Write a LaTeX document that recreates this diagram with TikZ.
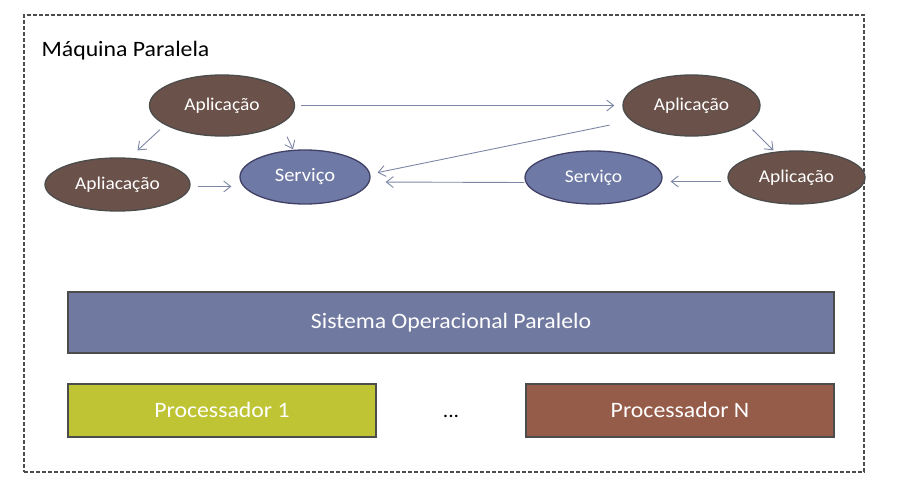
\documentclass[tikz,border=0pt]{standalone}
\usepackage{fontspec}
\setmainfont{Carlito}[FakeStretch=1.08]
\usetikzlibrary{arrows.meta}
\usetikzlibrary{shapes.geometric}
\usetikzlibrary{positioning}
\usetikzlibrary{calc}
\definecolor{appbrown}{RGB}{106,81,73}
\definecolor{srvblue}{RGB}{110,122,165}
\definecolor{sopblue}{RGB}{112,121,160}
\definecolor{procgreen}{RGB}{190,196,52}
\definecolor{procred}{RGB}{150,92,74}
\definecolor{flowgray}{RGB}{125,135,165}

\begin{document}
\begin{tikzpicture}[x=1pt,y=-1pt]
  \tikzset{basicell/.style={ellipse,inner sep=0pt,minimum width=#1,text=white,line width=1.3pt},
           appell/.style={basicell=#1,fill=appbrown,draw=black!70,minimum height=61pt,font=\fontsize{18}{20}\selectfont},
           srvell/.style={basicell=#1,fill=srvblue,draw=blue!20!black!75,minimum height=54pt,font=\fontsize{19}{21}\selectfont},
           basicbox/.style={rectangle,inner sep=0pt,minimum width=#1,text=white,draw=black!70,line width=1.8pt,font=\fontsize{22}{24}\selectfont},
           sopbox/.style={basicbox=#1,fill=sopblue,minimum height=61pt},
           procbox/.style={basicbox=#1,minimum height=53pt},
           frame/.style={draw=black!70,line width=1.2pt,dash pattern=on 4pt off 2pt},
           flow/.style={->,line width=0.9pt,flowgray,>={Straight Barb[length=7pt,width=11pt]}}}
  \useasboundingbox (0,0) rectangle (900,495);

  \node[frame,minimum width=840pt,minimum height=457pt] (maquina) at (444,243.5) {};
  \node[anchor=base west,inner sep=0pt,font=\fontsize{22}{24}\selectfont] (titulo)
    at ([xshift=18pt,yshift=-42pt]maquina.north west) {Máquina Paralela};

  \node[appell=145pt] (app1) at (222,105.5) {Aplicação};
  \node[appell=145pt,minimum height=53pt] (apl) at (117.5,184.5) {Apliacação};
  \node[srvell=130pt] (srv1) at (305,177) {Serviço};
  \node[appell=137pt] (app2) at (691.5,105.5) {Aplicação};
  \node[srvell=137pt,minimum height=53pt,font=\fontsize{18}{20}\selectfont] (srv2) at (593.5,177.5) {Serviço};
  \node[appell=137pt,minimum height=53pt] (app3) at (796.5,177.5) {Aplicação};

  \node[sopbox=766pt] (sop) at (451,322.5) {Sistema Operacional Paralelo};
  \node[procbox=308pt,fill=procgreen,below right=29pt and 0pt of sop.south west] (proc1) {Processador 1};
  \node[procbox=308pt,fill=procred,below left=29pt and 0pt of sop.south east] (procN) {Processador N};
  \node[anchor=base,font=\fontsize{20}{22}\selectfont] (dots) at ($(proc1.base)!.5!(procN.base)$) {...};

  \draw[flow,shorten <=6pt,shorten >=8pt] (app1) -- (app2);
  \draw[flow] ([xshift=-62pt,yshift=7pt]app1.south) -- ([xshift=20pt,yshift=7pt]apl.north);
  \draw[flow] ([xshift=65pt]app1.south) -- ([xshift=-12pt]srv1.north);
  \draw[flow,shorten <=7pt,shorten >=8pt] ([yshift=-2pt]apl.east) -- ([yshift=-2pt]apl.east -| srv1.west);
  \draw[flow,shorten <=13pt,shorten >=7pt] ([yshift=-17pt]app2.west) -- ([yshift=3pt]srv1.east);
  \draw[flow,shorten >=15pt] ([yshift=-5pt]srv2.west) -- ([yshift=-5pt]srv1.east);
  \draw[flow] ([xshift=61pt,yshift=7pt]app2.south) -- ([xshift=-23pt]app3.north);
  \draw[flow,shorten <=6pt,shorten >=8pt] ([yshift=-4pt]app3.west) -- ([yshift=-4pt]srv2.east);
\end{tikzpicture}
\end{document}
